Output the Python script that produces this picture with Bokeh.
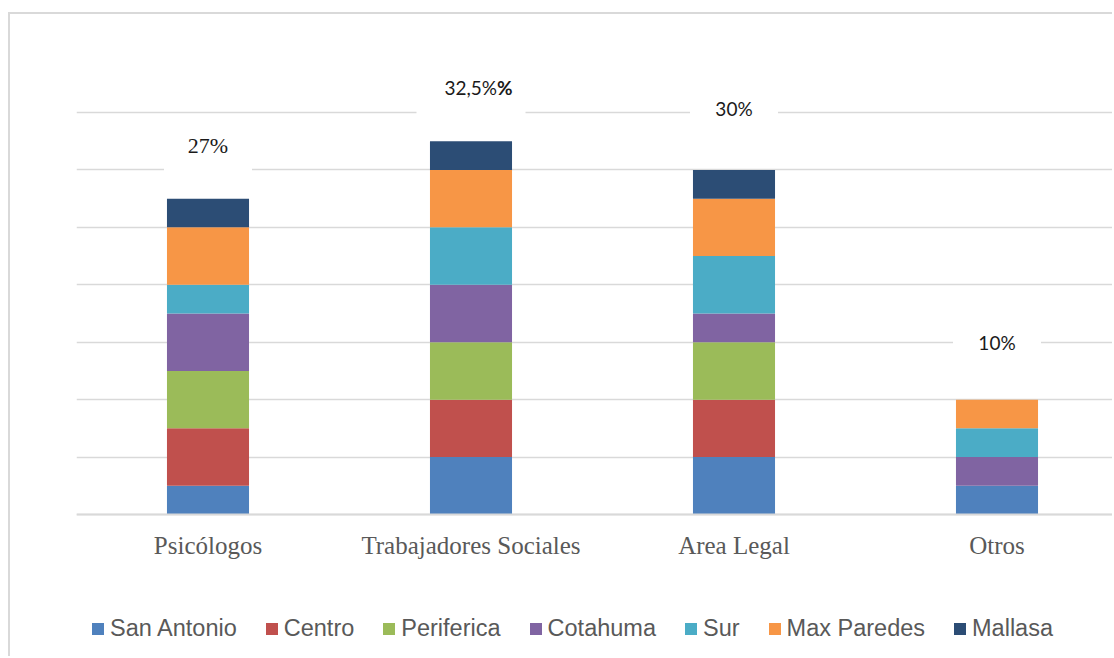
from bokeh.plotting import figure
from bokeh.models import Range1d, FixedTicker, Legend, LegendItem, ColumnDataSource
from bokeh.embed import file_html
from bokeh.resources import INLINE
from bokeh.core.properties import value

categories = ["Psicólogos", "Trabajadores Sociales", "Area Legal", "Otros"]
series = ["San Antonio", "Centro", "Periferica", "Cotahuma", "Sur", "Max Paredes", "Mallasa"]
san_antonio = [0.5, 1, 1, 0.5]
centro = [1, 1, 1, 0]
periferica = [1, 1, 1, 0]
cotahuma = [1, 1, 0.5, 0.5]
sur = [0.5, 1, 1, 0.5]
max_paredes = [1, 1, 1, 0.5]
mallasa = [0.5, 0.5, 0.5, 0]
pct_labels = ["27%", "32,5%", "30%", "10%"]
pct_suffix = ["", "%", "", ""]
y_ticks = [0, 1, 2, 3, 4, 5, 6, 7]

colors = ["#4F81BD", "#C0504D", "#9BBB59", "#8064A2", "#4BACC6", "#F79646", "#2C4D75"]
label_fonts = ["'Liberation Serif', serif", "Lato", "Lato", "Lato"]
label_sizes = ["22px", "19px", "19px", "19px"]
label_align = ["center", "right", "center", "center"]
label_xoff = [0, 26, 0, 0]
label_yoff = [0, 0, -8, -4]
box_w = [88, 109, 88, 88]

keys = ["s%d" % i for i in range(len(series))]
values = [san_antonio, centro, periferica, cotahuma, sur, max_paredes, mallasa]
xpos = [i + 0.5 for i in range(len(categories))]
data = {"x": xpos}
for k, v in zip(keys, values):
    data[k] = v
src = ColumnDataSource(data)

totals = [sum(v[i] for v in values) for i in range(len(categories))]

W, H = 1104, 644
PX_X = 263.0   # pixels per category
PX_Y = 57.43   # pixels per unit
p = figure(width=W, height=H, output_backend="svg", toolbar_location=None,
           x_range=Range1d(0, 1038 / PX_X), y_range=Range1d(-144 / PX_Y, 494 / PX_Y),
           min_border_left=66, min_border_right=0, min_border_top=6, min_border_bottom=0)
p.styles = {"border-left": "2px solid #d9d9d9", "border-top": "2px solid #d9d9d9",
            "margin-top": "12px", "margin-left": "8px"}
p.outline_line_color = None
p.background_fill_color = "white"
p.border_fill_color = "white"

p.yaxis.visible = False
p.xgrid.visible = False
p.ygrid.ticker = FixedTicker(ticks=y_ticks)
p.ygrid.grid_line_color = "#d9d9d9"
p.ygrid.grid_line_width = 1.5

xa = p.xaxis[0]
xa.fixed_location = 0
xa.ticker = FixedTicker(ticks=xpos)
xa.major_label_overrides = {x: c for x, c in zip(xpos, categories)}
xa.major_tick_line_color = None
xa.minor_tick_line_color = None
xa.axis_line_color = "#d9d9d9"
xa.axis_line_width = 2
xa.major_label_text_font = "Liberation Serif"
xa.major_label_text_font_size = "25px"
xa.major_label_text_color = "#595959"
xa.major_label_standoff = 11

rends = p.vbar_stack(keys, x="x", width=0.312, source=src, color=colors, line_color=None)

# white label boxes (hide the gridlines behind the labels) and the labels
label_y = [t + 0.93 for t in totals]
bsrc = ColumnDataSource(dict(x=xpos, ly=label_y, bw=box_w))
p.rect(x="x", y="ly", width="bw", height=56, width_units="screen", height_units="screen",
       source=bsrc, fill_color="white", line_color=None)
for i in range(len(categories)):
    one = ColumnDataSource(dict(x=[xpos[i]], ly=[label_y[i]], txt=[pct_labels[i]], suf=[pct_suffix[i]]))
    p.text(x="x", y="ly", text="txt", source=one,
           text_font=value(label_fonts[i]), text_font_size=value(label_sizes[i]),
           text_align=label_align[i], x_offset=label_xoff[i], y_offset=label_yoff[i],
           text_baseline="middle", text_color="#1a1a1a")
    if pct_suffix[i]:
        p.text(x="x", y="ly", text="suf", source=one, text_font=value("Lato"),
               text_font_size=value(label_sizes[i]), text_font_style="bold", text_align="left",
               x_offset=label_xoff[i], y_offset=label_yoff[i], text_baseline="middle",
               text_color="#1a1a1a")

legend = Legend(items=[LegendItem(label=s, renderers=[r]) for s, r in zip(series, rends)],
                orientation="horizontal", location=(14, 16))
legend.glyph_width = 15
legend.glyph_height = 15
legend.label_standoff = 5
legend.spacing = 27
legend.padding = 10
legend.margin = 0
legend.border_line_color = None
legend.background_fill_alpha = 0
legend.label_text_font = "Liberation Sans"
legend.label_text_font_size = "23.5px"
legend.label_text_color = "#595959"
p.add_layout(legend)

open("out.html", "w").write(file_html(p, INLINE))
